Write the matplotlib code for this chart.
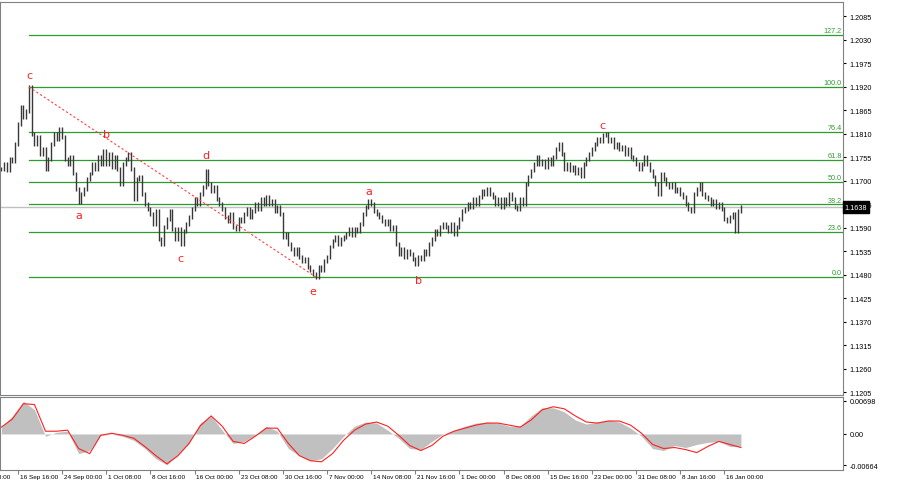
import numpy as np
import matplotlib
matplotlib.use("Agg")
import matplotlib.pyplot as plt
from matplotlib.transforms import blended_transform_factory

# closing prices, one per H8 bar, split by wave
closes_rise = [1.1727, 1.1739, 1.1723, 1.1750, 1.1746, 1.1786, 1.1832, 1.1872, 1.1849, 1.1863,
               1.1919]
closes_wave_a = [1.1809, 1.1786, 1.1802, 1.1762, 1.1774, 1.1727, 1.1750, 1.1786, 1.1809, 1.1797,
                 1.1821, 1.1802, 1.1750, 1.1739, 1.1755, 1.1716, 1.1680, 1.1650]
closes_wave_b = [1.1669, 1.1680, 1.1704, 1.1716, 1.1739, 1.1727, 1.1755, 1.1739, 1.1769, 1.1739,
                 1.1762, 1.1732, 1.1755, 1.1727, 1.1692, 1.1739, 1.1750, 1.1762, 1.1727]
closes_wave_cd = [1.1657, 1.1704, 1.1709, 1.1669, 1.1645, 1.1633, 1.1622, 1.1598, 1.1629, 1.1563,
                  1.1551, 1.1591, 1.1610, 1.1629, 1.1587, 1.1563, 1.1587, 1.1551, 1.1582, 1.1598,
                  1.1615, 1.1633, 1.1657, 1.1645, 1.1669, 1.1685, 1.1723]
closes_wave_e = [1.1692, 1.1676, 1.1685, 1.1657, 1.1645, 1.1633, 1.1615, 1.1605, 1.1622, 1.1591,
                 1.1587, 1.1610, 1.1605, 1.1622, 1.1633, 1.1615, 1.1629, 1.1645, 1.1633, 1.1657,
                 1.1645, 1.1662, 1.1645, 1.1652, 1.1629, 1.1638, 1.1622, 1.1568, 1.1575, 1.1551,
                 1.1540, 1.1528, 1.1540, 1.1521, 1.1512, 1.1516, 1.1498, 1.1489, 1.1481, 1.1474]
closes_new_a = [1.1498, 1.1489, 1.1512, 1.1521, 1.1545, 1.1559, 1.1568, 1.1551, 1.1563, 1.1568,
                1.1575, 1.1587, 1.1573, 1.1587, 1.1582, 1.1598, 1.1622, 1.1638, 1.1652]
closes_new_b = [1.1645, 1.1629, 1.1622, 1.1615, 1.1605, 1.1598, 1.1605, 1.1587, 1.1591, 1.1551,
                1.1528, 1.1540, 1.1521, 1.1535, 1.1528, 1.1516, 1.1505]
closes_new_c = [1.1521, 1.1516, 1.1535, 1.1528, 1.1551, 1.1563, 1.1582, 1.1575, 1.1591, 1.1598,
                1.1591, 1.1582, 1.1598, 1.1575, 1.1591, 1.1610, 1.1629, 1.1633, 1.1645, 1.1638,
                1.1657, 1.1645, 1.1662, 1.1676, 1.1669, 1.1680, 1.1669, 1.1662, 1.1645, 1.1657,
                1.1638, 1.1657, 1.1645, 1.1669, 1.1657, 1.1638, 1.1633, 1.1657, 1.1645, 1.1692,
                1.1709, 1.1723, 1.1739, 1.1755, 1.1739, 1.1746, 1.1732, 1.1750, 1.1739, 1.1755,
                1.1774, 1.1786, 1.1762, 1.1727, 1.1739, 1.1723, 1.1732, 1.1716, 1.1727, 1.1709,
                1.1739, 1.1750, 1.1762, 1.1774, 1.1786, 1.1797, 1.1793, 1.1807, 1.1809]
closes_decline = [1.1793, 1.1797, 1.1779, 1.1786, 1.1774, 1.1779, 1.1762, 1.1774, 1.1755, 1.1750,
                  1.1739, 1.1727, 1.1739, 1.1755, 1.1739, 1.1723, 1.1709, 1.1692, 1.1669, 1.1716,
                  1.1704, 1.1692, 1.1685, 1.1692, 1.1676, 1.1680, 1.1669, 1.1662, 1.1645, 1.1633,
                  1.1629, 1.1669, 1.1680, 1.1692, 1.1669, 1.1662, 1.1657, 1.1645, 1.1652, 1.1638,
                  1.1645, 1.1633, 1.1610, 1.1605, 1.1615, 1.1622, 1.1582, 1.1629, 1.1638]

# oscillator, one value every 4 bars (x 1e-3)
osc_step = 4
osc_hist = [1.44, 3.81, 6.90, 5.10, -0.49, 0.37, 0.58, -4.15, -3.50, -0.28,
            -0.06, -0.49, -1.35, -3.07, -5.22, -6.51, -4.36, -2.00, 2.30, 3.81,
            0.80, -2.00, -1.57, -0.28, 1.66, 0.58, -3.07, -4.58, -5.65, -5.22,
            -3.07, -0.49, 1.66, 2.52, 2.30, 0.80, -0.92, -3.07, -3.29, -1.57,
            -0.06, 0.80, 1.66, 2.30, 2.52, 2.30, 1.66, 1.66, 3.81, 5.53,
            5.53, 4.67, 2.95, 2.09, 2.52, 2.95, 2.52, 1.23, -0.49, -3.07,
            -3.50, -2.43, -2.86, -2.21, -1.78, -1.57, -2.64, -2.64]
osc_signal = [1.44, 3.16, 6.39, 6.20, 0.58, 0.58, 0.80, -3.07, -4.15, -0.28,
              0.15, -0.28, -0.92, -2.64, -4.58, -6.30, -4.58, -2.00, 1.66, 3.81,
              1.66, -1.57, -2.00, -0.49, 1.23, 1.23, -2.00, -4.58, -5.65, -5.87,
              -4.15, -1.35, 0.80, 2.09, 2.52, 1.66, -0.28, -2.43, -3.50, -2.43,
              -0.49, 0.58, 1.23, 1.87, 2.30, 2.30, 1.87, 1.44, 2.95, 5.10,
              5.74, 5.31, 3.81, 2.52, 2.30, 2.73, 2.73, 1.87, 0.15, -2.21,
              -3.07, -2.86, -3.29, -3.93, -2.64, -1.57, -2.21, -2.86]

fib_levels = [0.0, 23.6, 38.2, 50.0, 61.8, 76.4, 100.0, 127.2]
fib_top_bar = 10
fib_bottom_bar = 114

wave_labels = ["c", "b", "a", "c", "d", "e", "a", "b", "c"]
wave_x = [10, 38, 28, 65, 74, 113, 133, 151, 218]
wave_y = [1.1947, 1.1809, 1.1619, 1.1519, 1.1760, 1.1441, 1.1675, 1.1467, 1.1830]

price_ticks = [1.2085, 1.2030, 1.1975, 1.1920, 1.1865, 1.1810, 1.1755, 1.1700, 1.1645,
               1.1590, 1.1535, 1.1480, 1.1425, 1.1370, 1.1315, 1.1260, 1.1205]
time_labels = ["9 Sep 08:00", "16 Sep 16:00", "24 Sep 00:00", "1 Oct 08:00", "8 Oct 16:00",
               "16 Oct 00:00", "23 Oct 08:00", "30 Oct 16:00", "7 Nov 00:00", "14 Nov 08:00",
               "21 Nov 16:00", "1 Dec 00:00", "8 Dec 08:00", "15 Dec 16:00", "23 Dec 00:00",
               "31 Dec 08:00", "8 Jan 16:00", "16 Jan 00:00"]
time_bars = [-10, 6, 22, 38, 54, 70, 86, 102, 118, 134, 150, 166, 182, 198, 214, 230, 246, 262]
osc_ticks = [0.00698, 0.0, -0.00664]

closes = np.array(closes_rise + closes_wave_a + closes_wave_b + closes_wave_cd + closes_wave_e
                  + closes_new_a + closes_new_b + closes_new_c + closes_decline)
idx = np.arange(len(closes))
last_price = closes[-1]

# bar extent: previous close -> close
prev = np.concatenate([[closes[0]], closes[:-1]])
lows = np.minimum(prev, closes)
highs = np.maximum(prev, closes)

osc_x = np.arange(len(osc_hist)) * osc_step
hist = np.array(osc_hist) / 1000
sig = np.array(osc_signal) / 1000

grid_col = "#808080"
fib_col = "#2f9a2f"
fnt = "Liberation Sans"

fig = plt.figure(figsize=(9, 4.85), dpi=100)
ax = fig.add_axes([0.0, 1 - 396 / 485, 843 / 900, 393 / 485])
ax2 = fig.add_axes([0.0, 1 - 471 / 485, 843 / 900, 73 / 485])

xmax = 305
ax.vlines(idx, lows - 0.0004, highs + 0.0004, color="#383838", lw=1.0)

# current price line
ax.axhline(last_price, color="#c0c0c0", lw=1.0, zorder=0)

# fibonacci grid
f0 = closes[fib_bottom_bar]
f1 = closes[fib_top_bar]
for lv in fib_levels:
    p = f0 + (f1 - f0) * lv / 100.0
    ax.plot([fib_top_bar, xmax], [p, p], color=fib_col, lw=0.9, zorder=1)
    ax.text(xmax - 0.5, p + 0.0002, f"{lv:.1f}", color=fib_col, fontsize=5.2,
            ha="right", va="bottom", family=fnt)

# trend line c -> e
ax.plot([fib_top_bar, fib_bottom_bar], [f1, f0], color="#ff4040", lw=0.8,
        ls=(0, (2, 2)), zorder=2)

for t, x, y in zip(wave_labels, wave_x, wave_y):
    ax.text(x, y, t, color="#ff2020", fontsize=8, ha="center", va="center")

ax.set_xlim(-0.5, xmax)
ax.set_ylim(1.1198, 1.2118)
ax.yaxis.tick_right()
ax.set_yticks(price_ticks)
ax.set_yticklabels([f"{v:.4f}" for v in price_ticks], family=fnt)
ax.tick_params(axis="y", labelsize=5.2, length=2.5, pad=2, colors="black")
ax.set_xticks([])
for sp in ax.spines.values():
    sp.set_color(grid_col)

# last price tag
tr = blended_transform_factory(ax.transAxes, ax.transData)
ax.text(1.002, last_price, f"{last_price:.4f}", transform=tr, color="white",
        fontsize=5.2, va="center", ha="left", family=fnt, zorder=5,
        bbox=dict(boxstyle="square,pad=0.3", fc="black", ec="black"))

# oscillator panel
ax2.fill_between(osc_x, 0, hist, color="#c0c0c0", lw=0)
ax2.plot(osc_x, sig, color="#ff2020", lw=0.8)
ax2.set_xlim(-0.5, xmax)
ax2.set_ylim(-0.0076, 0.0078)
ax2.yaxis.tick_right()
ax2.set_yticks(osc_ticks)
ax2.set_yticklabels(["0.00698", "0.00", "-0.00664"], family=fnt)
ax2.tick_params(axis="y", labelsize=5.2, length=2.5, pad=2)
ax2.set_xticks([b for b in time_bars if b >= 0])
ax2.set_xticklabels([])
ax2.tick_params(axis="x", length=3, color=grid_col)
for sp in ax2.spines.values():
    sp.set_color(grid_col)

trx = blended_transform_factory(ax2.transData, ax2.transAxes)
for b, lab in zip(time_bars, time_labels):
    ax2.text(b + 0.7, -0.05, lab, transform=trx, fontsize=4.6, ha="left", va="top",
             family=fnt, clip_on=False)

fig.savefig("out.png", dpi=100)
